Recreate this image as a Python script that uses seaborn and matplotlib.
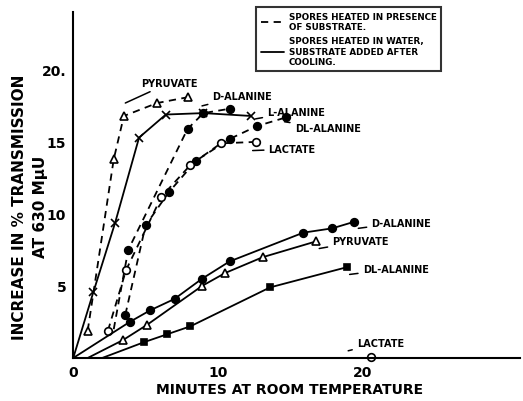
import matplotlib
matplotlib.use("Agg")
import matplotlib.pyplot as plt
from matplotlib.lines import Line2D
import seaborn as sns

# heated in presence of substrate (dashed)
pyr_d_x = [1.0, 2.8, 3.5, 5.8, 7.9]
pyr_d_y = [1.9, 13.8, 16.8, 17.7, 18.1]
dala_d_x = [2.8, 3.8, 7.9, 9.0, 10.8]
dala_d_y = [2.0, 7.5, 15.9, 17.0, 17.3]
dlala_d_x = [3.6, 5.0, 6.6, 8.5, 10.8, 12.7, 14.7]
dlala_d_y = [3.0, 9.2, 11.5, 13.7, 15.2, 16.1, 16.7]
lac_d_x = [2.4, 3.65, 6.1, 8.1, 10.2, 12.6]
lac_d_y = [1.9, 6.1, 11.2, 13.4, 14.9, 15.0]

# heated in water, substrate added after cooling (solid)
lala_s_x = [0, 1.4, 2.9, 4.55, 6.4, 9.0, 12.3]
lala_s_y = [0, 4.6, 9.4, 15.3, 16.9, 17.0, 16.8]
dala_s_x = [0, 3.9, 5.3, 7.0, 8.9, 10.8, 15.9, 17.9, 19.4]
dala_s_y = [0, 2.5, 3.3, 4.1, 5.5, 6.7, 8.7, 9.0, 9.45]
pyr_s_x = [1.0, 3.45, 5.1, 8.9, 10.5, 13.1, 16.8]
pyr_s_y = [0, 1.25, 2.3, 5.0, 5.9, 7.0, 8.1]
dlala_s_x = [2.0, 4.9, 6.5, 8.1, 13.6, 18.9]
dlala_s_y = [0, 1.1, 1.65, 2.2, 4.9, 6.3]
lac_s_x = [20.6]
lac_s_y = [0.1]

sns.set_style("white")
plt.rcParams["font.family"] = ["DejaVu Sans"]
plt.rcParams["font.weight"] = "bold"
for k in ["text.color", "axes.labelcolor", "xtick.color", "ytick.color"]:
    plt.rcParams[k] = "black"

fig = plt.figure(figsize=(5.23, 4.02), dpi=100)
ax = fig.add_axes([0.14, 0.107, 0.855, 0.86])

def curve(x, y, ls, marker, filled=True, ms=5.5, skip_first=False):
    sns.lineplot(x=x, y=y, ax=ax, sort=False, color="black", linestyle=ls,
                 linewidth=1.3, marker=marker, markersize=ms,
                 markerfacecolor="black" if filled else "white",
                 markeredgecolor="black", markeredgewidth=1.2,
                 markevery=slice(1, None) if skip_first else None)

curve(pyr_d_x, pyr_d_y, (0, (4, 3)), "^", filled=False)
curve(dala_d_x, dala_d_y, (0, (4, 3)), "o", skip_first=True)
curve(dlala_d_x, dlala_d_y, (0, (4, 3)), "o")
curve(lac_d_x, lac_d_y, (0, (4, 3)), "o", filled=False)

curve(lala_s_x, lala_s_y, "-", "x", ms=6, skip_first=True)
curve(dala_s_x, dala_s_y, "-", "o", skip_first=True)
curve(pyr_s_x, pyr_s_y, "-", "^", filled=False, skip_first=True)
curve(dlala_s_x, dlala_s_y, "-", "s", ms=5, skip_first=True)
ax.plot(lac_s_x, lac_s_y, "o", ms=5.5, mfc="white", mec="black", mew=1.2, clip_on=False)

# curve labels with short hooks pointing at the curves
labels = [
    ("PYRUVATE", (4.7, 19.1), (3.6, 17.7)),
    ("D-ALANINE", (9.6, 18.2), (8.9, 17.5)),
    ("L-ALANINE", (13.4, 17.1), (12.6, 16.6)),
    ("DL-ALANINE", (15.3, 15.95), (14.6, 16.4)),
    ("LACTATE", (13.5, 14.5), (12.4, 14.4)),
    ("D-ALANINE", (20.6, 9.4), (19.7, 9.0)),
    ("PYRUVATE", (17.9, 8.1), (17.0, 7.6)),
    ("DL-ALANINE", (20.0, 6.2), (19.1, 5.8)),
    ("LACTATE", (19.6, 1.05), (19.0, 0.5)),
]
for txt, tpos, hook in labels:
    ax.annotate(txt, xy=hook, xytext=tpos, fontsize=7, fontweight="bold",
                va="center", ha="left",
                arrowprops=dict(arrowstyle="-", color="black", lw=1.1,
                                shrinkA=1, shrinkB=0))

ax.set_xlim(0, 30.9)
ax.set_ylim(0, 24)
ax.set_xticks([0, 10, 20])
ax.set_yticks([5, 10, 15, 20])
ax.set_yticklabels(["5", "10", "15", "20."])
ax.tick_params(direction="in", length=4, width=1.2, labelsize=10, pad=5)
for lab in ax.get_xticklabels() + ax.get_yticklabels():
    lab.set_fontweight("bold")
sns.despine(ax=ax)
for s in ["left", "bottom"]:
    ax.spines[s].set_linewidth(1.5)
    ax.spines[s].set_color("black")

fig.text(290 / 523, 1 - 390 / 402, "MINUTES AT ROOM TEMPERATURE", fontsize=10,
         fontweight="bold", ha="center", va="center")
fig.text(20 / 523, 1 - 207 / 402, "INCREASE IN % TRANSMISSION", fontsize=11,
         fontweight="bold", ha="center", va="center", rotation=90)
fig.text(41 / 523, 1 - 207 / 402, "AT 630 M\u03bcU", fontsize=11,
         fontweight="bold", ha="center", va="center", rotation=90)

handles = [Line2D([], [], color="black", lw=1.3, linestyle=(0, (4, 3))),
           Line2D([], [], color="black", lw=1.3)]
leg = fig.legend(handles,
                 ["SPORES HEATED IN PRESENCE\nOF SUBSTRATE.",
                  "SPORES HEATED IN WATER,\nSUBSTRATE ADDED AFTER\nCOOLING."],
                 loc="upper left", bbox_to_anchor=(0.482, 0.99),
                 prop={"size": 6.3, "weight": "bold"}, frameon=True,
                 fancybox=False, edgecolor="black", handlelength=2.6,
                 borderpad=0.5, labelspacing=0.6, handletextpad=0.6)
leg.get_frame().set_linewidth(1.5)

fig.savefig("out.png", dpi=100)
